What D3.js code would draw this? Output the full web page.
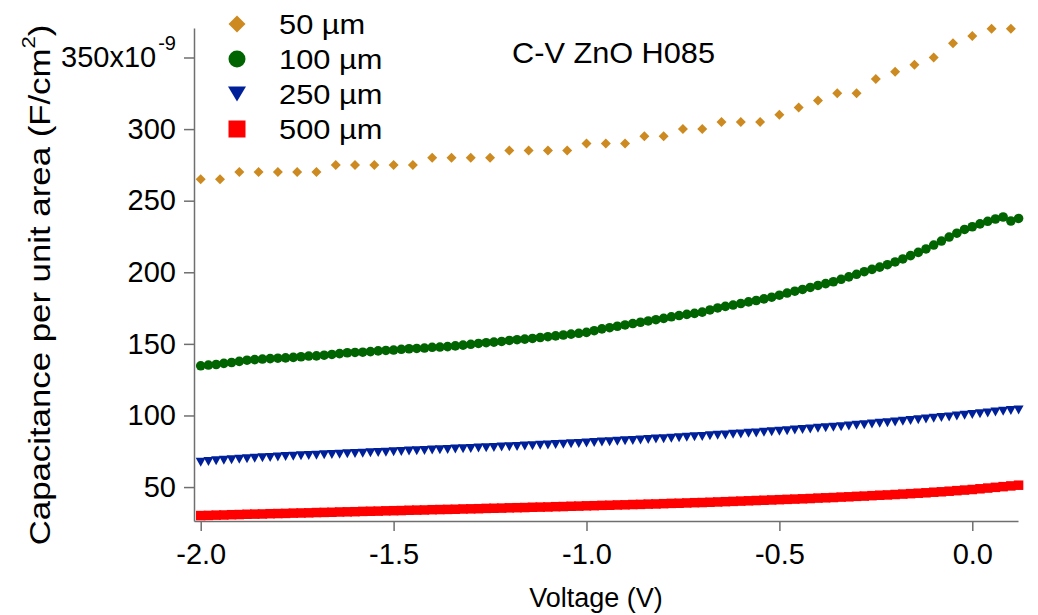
<!DOCTYPE html>
<html>
<head>
<meta charset="utf-8">
<script src="https://cdn.jsdelivr.net/npm/d3@7"></script>
<style>
  body { margin: 0; background: #fff; }
  svg { display: block; }
  text { font-family: "Liberation Sans", Arial, sans-serif; fill: #000; }
</style>
</head>
<body>
<svg id="chart" width="1038" height="615"></svg>
<script>
// Voltage sweep: every series starts at -2.0 V
const sweepStart = -2.0;
const step50 = 0.05;   // 50 µm pad sweep step (V)
const stepFine = 0.02; // 100/250/500 µm pad sweep step (V)

const seriesNames = ["50 µm", "100 µm", "250 µm", "500 µm"];
const seriesColors = ["#cc8a20", "#006400", "#00209a", "#ff0000"];

// Capacitance per unit area, in units of 1e-9 F/cm²
const cap50 = [265, 265, 270, 270, 270, 270, 270, 275, 275, 275, 275, 275, 280, 280, 280,
  280, 285, 285, 285, 285, 290, 290, 290, 295, 295, 300, 300, 305, 305, 305, 310, 315, 320,
  325, 325, 335, 340, 345, 350, 360, 365, 370, 370];

const cap100 = [134.7, 135.2, 135.6, 136.4, 137.0, 137.8, 138.6, 139.0, 139.4, 139.7, 140.0,
  140.2, 140.6, 141.0, 141.5, 141.6, 142.1, 142.6, 143.2, 143.8, 144.0, 144.2, 144.6, 145.1,
  145.4, 145.7, 146.2, 146.6, 146.8, 147.1, 147.6, 147.8, 148.1, 148.6, 149.1, 149.7, 150.3,
  150.8, 151.2, 151.7, 152.4, 152.9, 153.3, 153.8, 154.4, 155.0, 155.6, 156.2, 156.8, 157.4,
  158.0, 159.2, 160.5, 161.3, 162.3, 163.2, 164.2, 165.1, 166.0, 166.9, 167.8, 168.9, 169.8,
  170.6, 171.3, 172.2, 173.7, 175.1, 176.2, 177.1, 178.2, 179.3, 180.3, 181.4, 182.6, 184.0,
  185.5, 186.8, 188.0, 189.4, 190.8, 192.1, 193.4, 195.1, 196.8, 198.6, 200.4, 202.0, 203.6,
  205.3, 207.2, 209.3, 211.6, 213.9, 216.3, 219.0, 221.8, 224.6, 227.3, 229.9, 231.8, 233.8,
  235.6, 237.2, 238.6, 235.8, 237.6];

const cap250 = [67.3, 67.8, 68.3, 68.7, 69.1, 69.5, 69.8, 70.1, 70.4, 70.7, 71.0, 71.3, 71.5,
  71.8, 72.1, 72.3, 72.6, 72.8, 73.0, 73.3, 73.5, 73.7, 74.0, 74.2, 74.4, 74.6, 74.9, 75.1,
  75.3, 75.6, 75.8, 76.0, 76.3, 76.5, 76.7, 77.0, 77.2, 77.5, 77.7, 77.9, 78.2, 78.4, 78.7,
  78.9, 79.2, 79.4, 79.7, 79.9, 80.2, 80.5, 80.8, 81.1, 81.4, 81.7, 82.0, 82.3, 82.6, 82.9,
  83.2, 83.5, 83.8, 84.1, 84.5, 84.8, 85.1, 85.4, 85.8, 86.1, 86.4, 86.8, 87.1, 87.5, 87.8,
  88.2, 88.6, 89.0, 89.4, 89.8, 90.2, 90.6, 91.0, 91.4, 91.8, 92.2, 92.7, 93.1, 93.6, 94.0,
  94.5, 95.0, 95.5, 96.0, 96.5, 97.0, 97.5, 98.0, 98.5, 99.0, 99.6, 100.1, 100.6, 101.2,
  101.8, 102.4, 103.0, 103.5, 103.9];

const cap500 = [30.1, 30.2, 30.4, 30.5, 30.7, 30.8, 31.0, 31.1, 31.2, 31.4, 31.5, 31.6, 31.8,
  31.9, 32.0, 32.2, 32.3, 32.4, 32.6, 32.7, 32.8, 33.0, 33.1, 33.2, 33.4, 33.5, 33.6, 33.8,
  33.9, 34.0, 34.2, 34.3, 34.4, 34.5, 34.7, 34.8, 34.9, 35.1, 35.2, 35.3, 35.5, 35.6, 35.7,
  35.9, 36.0, 36.1, 36.3, 36.4, 36.6, 36.7, 36.9, 37.0, 37.2, 37.3, 37.5, 37.6, 37.8, 37.9,
  38.1, 38.2, 38.4, 38.6, 38.7, 38.9, 39.1, 39.2, 39.4, 39.6, 39.8, 40.0, 40.2, 40.4, 40.6,
  40.8, 41.0, 41.2, 41.4, 41.6, 41.8, 42.0, 42.3, 42.5, 42.7, 43.0, 43.2, 43.5, 43.7, 44.0,
  44.3, 44.5, 44.8, 45.1, 45.4, 45.7, 46.0, 46.4, 46.7, 47.1, 47.5, 47.9, 48.3, 48.8, 49.3,
  49.8, 50.3, 50.8, 51.3];

const xTicks = [-2.0, -1.5, -1.0, -0.5, 0.0];
const yTicks = [50, 100, 150, 200, 250, 300, 350];
const titleText = "C-V ZnO H085";

// ---- layout ----
const svg = d3.select("#chart");
const x = d3.scaleLinear().domain([-2.0174, 0.1185]).range([194, 1018]);
const y = d3.scaleLinear().domain([26.3, 370.6]).range([521, 28]);
const axisColor = "#6f6f6f";

function withVolts(values, stepV) {
  return values.map((c, i) => ({ v: +(sweepStart + i * stepV).toFixed(3), c }));
}

// ---- marker shapes ----
function diamondPath(r) { return `M0,${-r}L${r},0L0,${r}L${-r},0Z`; }
function trianglePath(w, h) { return `M${-w / 2},${-h / 2}L${w / 2},${-h / 2}L0,${h / 2}Z`; }
function squarePath(s) { return `M${-s / 2},${-s / 2}h${s}v${s}h${-s}Z`; }
function circlePath(r) { return `M${r},0A${r},${r} 0 1,1 ${-r},0A${r},${r} 0 1,1 ${r},0Z`; }

const dataShapes = [diamondPath(5), circlePath(4.8), trianglePath(10, 9), squarePath(9.5)];
const legendShapes = [diamondPath(8.5), circlePath(8.5), trianglePath(18, 15), squarePath(17)];

const series = [
  withVolts(cap50, step50),
  withVolts(cap100, stepFine),
  withVolts(cap250, stepFine),
  withVolts(cap500, stepFine)
];

// ---- axes ----
const xAxis = d3.axisBottom(x).tickValues(xTicks).tickSize(10).tickSizeOuter(0)
  .tickPadding(12).tickFormat(d => d.toFixed(1));
const gx = svg.append("g").attr("transform", "translate(0,521)").call(xAxis);

const yAxis = d3.axisLeft(y).tickValues(yTicks).tickSize(10).tickSizeOuter(0)
  .tickPadding(8).tickFormat(d => d);
const gy = svg.append("g").attr("transform", "translate(194,0)").call(yAxis);

[gx, gy].forEach(g => {
  g.select(".domain").attr("stroke", axisColor).attr("stroke-width", 1.5);
  g.selectAll(".tick line").attr("stroke", axisColor).attr("stroke-width", 1.5);
  g.selectAll(".tick text").attr("font-size", 29).attr("fill", "#000")
    .attr("font-family", "'Liberation Sans', Arial, sans-serif");
});

// top tick carries the scale multiplier
gy.selectAll(".tick text").filter(d => d === 350).each(function () {
  const t = d3.select(this);
  t.text("350x10");
  t.append("tspan").attr("font-size", 20).attr("dx", 2).attr("dy", -17).text("-9");
});

// ---- data markers ----
series.forEach((data, k) => {
  svg.append("g").selectAll("path").data(data).join("path")
    .attr("d", dataShapes[k])
    .attr("transform", d => `translate(${x(d.v)},${y(d.c)})`)
    .attr("fill", seriesColors[k]);
});

// ---- axis titles ----
svg.append("text")
  .attr("x", 596).attr("y", 607)
  .attr("text-anchor", "middle").attr("font-size", 27)
  .text("Voltage (V)");

const yl = svg.append("text")
  .attr("transform", "translate(50,285) rotate(-90) scale(1.16,1)")
  .attr("text-anchor", "middle").attr("font-size", 30);
yl.append("tspan").text("Capacitance per unit area (F/cm");
yl.append("tspan").attr("font-size", 19).attr("dy", "-0.8em").text("2");
yl.append("tspan").attr("dy", "0.5em").text(")");

// ---- title ----
svg.append("text")
  .attr("x", 512).attr("y", 63)
  .attr("font-size", 29)
  .attr("textLength", 203).attr("lengthAdjust", "spacingAndGlyphs")
  .text(titleText);

// ---- legend ----
const legendRows = [24, 59, 94, 129];
seriesNames.forEach((name, k) => {
  svg.append("path")
    .attr("d", legendShapes[k])
    .attr("transform", `translate(237,${legendRows[k]})`)
    .attr("fill", seriesColors[k]);
  const t = svg.append("text")
    .attr("x", 279).attr("y", legendRows[k] + 10)
    .attr("font-size", 28)
    .text(name);
  const natural = t.node().getComputedTextLength();
  t.attr("textLength", natural * 1.1).attr("lengthAdjust", "spacingAndGlyphs");
});
</script>
</body>
</html>
